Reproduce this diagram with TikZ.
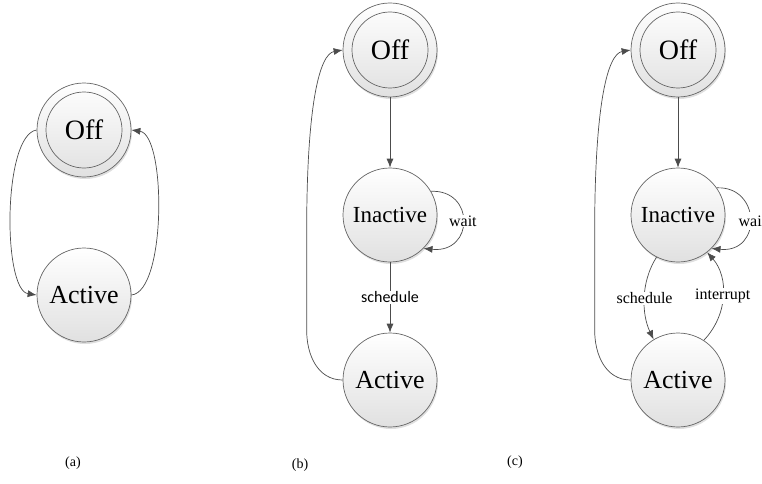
\documentclass[tikz,border=0pt]{standalone}
\usepackage{fontspec}
\setmainfont{Liberation Serif}
\newfontfamily\statefont{Liberation Serif}
\newfontfamily\labelsans{Carlito}
\usetikzlibrary{positioning,arrows.meta,shadows}

\tikzset{
  stnode/.style={circle, draw=black!60, line width=0.7pt, top color=white, bottom color=black!12,
    minimum size=94pt, inner sep=0pt, font=\statefont\fontsize{26}{30}\selectfont,
    drop shadow={opacity=0.25, shadow xshift=1pt, shadow yshift=-2pt}},
  offnode/.style={stnode, font=\statefont\fontsize{28}{32}\selectfont},
  inner/.style={draw=black!60, line width=0.7pt},
  trans/.style={draw=black!70, line width=0.7pt, -{Latex[length=9pt,width=7pt]}},
  lbl/.style={fill=white, inner sep=1pt, font=\statefont\fontsize{16}{18}\selectfont},
  subcap/.style={font=\statefont\fontsize{14}{16}\selectfont}
}

\begin{document}
\begin{tikzpicture}[x=1pt,y=1pt]
\useasboundingbox (0,0) rectangle (762,483);
%
% (a)
    \node[offnode] (offa) at (84,353) {Off};
    \draw[inner] (offa.center) circle (38);
    \node[stnode] (activea) at (84,188) {Active};
    \draw[trans] (offa.west) .. controls +(-34,-5) and +(-34,5) .. (activea.west);
    \draw[trans] (activea.east) .. controls +(35,3) and +(35,-5) .. (offa.east);
    \node[subcap] (capa) at (73,20) {(a)};
%
% (b)
    \node[offnode] (offb) at (390,433) {Off};
    \draw[inner] (offb.center) circle (38);
    \node[stnode, font=\statefont\fontsize{23}{27}\selectfont] (inactiveb) at (390,268) {Inactive};
    \node[stnode] (activeb) at (390,103) {Active};
    \draw[trans] (offb) -- (inactiveb);
    \draw[trans] (inactiveb) -- node[lbl, font=\labelsans\fontsize{16}{18}\selectfont] {schedule} (activeb);
    \draw[trans] (inactiveb.30) .. controls +(44,2) and +(51,-5) .. node[lbl] {wait} (inactiveb.-45);
    \draw[trans] (activeb.west) .. controls +(-25,0) and +(0,-25) .. ++(-36,50) -- ++(0,97)
      .. controls +(0,130) and +(-23,-4) .. (offb.west);
    \node[subcap] (capb) at (300,18) {(b)};
%
% (c)
    \node[offnode] (offc) at (678,433) {Off};
    \draw[inner] (offc.center) circle (38);
    \node[stnode, font=\statefont\fontsize{23}{27}\selectfont] (inactivec) at (678,268) {Inactive};
    \node[stnode] (activec) at (678,103) {Active};
    \draw[trans] (offc) -- (inactivec);
    \draw[trans] (inactivec.243) .. controls +(-16,-25) and +(-12,25) .. node[lbl] {schedule} (activec.121);
    \draw[trans] (activec.57) .. controls +(24,25) and +(22,-25) .. node[lbl] {interrupt} (inactivec.-52);
    \draw[trans] (inactivec.35) .. controls +(44,2) and +(51,-5) .. (inactivec.-45);
    \node[lbl, anchor=west, inner sep=0pt, minimum height=18pt, minimum width=26pt, align=left] (waic) at (737,262) {wai\hfill};
    \draw[trans] (activec.west) .. controls +(-25,0) and +(0,-25) .. ++(-36,50) -- ++(0,97)
      .. controls +(0,130) and +(-23,-4) .. (offc.west);
    \node[subcap] (capc) at (515,21) {(c)};
\end{tikzpicture}
\end{document}
